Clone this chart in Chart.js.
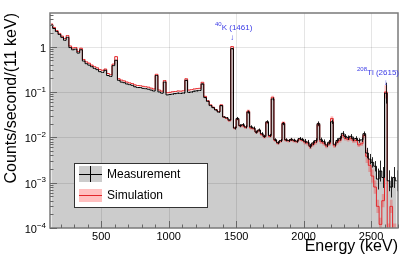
<!DOCTYPE html>
<html>
<head>
<meta charset="utf-8">
<script src="https://cdn.jsdelivr.net/npm/chart.js@4/dist/chart.umd.min.js"></script>
<style>
  html, body { margin: 0; padding: 0; background: #fff; }
</style>
</head>
<body>
<canvas id="chart" width="415" height="259"></canvas>
<script>
// spectrum, 20 keV bins, centres starting at 130 keV
const binStart = 130;
const binWidth = 20;

const measurement = [
  3.0, 2.5, 2.15, 1.85, 1.6, 1.38, 1.6, 0.95, 0.85, 0.88,
  0.72, 0.85, 0.48, 0.42, 0.39, 0.36, 0.33, 0.31, 0.28, 0.27,
  0.30, 0.23, 0.22, 0.38, 0.5, 0.18, 0.165, 0.16, 0.15, 0.145,
  0.14, 0.13, 0.125, 0.125, 0.12, 0.118, 0.115, 0.11, 0.105, 0.23,
  0.1, 0.094, 0.165, 0.086, 0.088, 0.09, 0.092, 0.094, 0.093, 0.095,
  0.18, 0.098, 0.1, 0.104, 0.106, 0.108, 0.15, 0.075, 0.062, 0.05,
  0.045, 0.04, 0.036, 0.05, 0.028, 0.027, 0.024, 0.9, 0.016, 0.026,
  0.018, 0.019, 0.017, 0.036, 0.017, 0.016, 0.013, 0.0145, 0.012, 0.0105,
  0.022, 0.011, 0.07, 0.0088, 0.0076, 0.0085, 0.02, 0.0088, 0.0085, 0.009,
  0.0086, 0.0082, 0.0094, 0.009, 0.0082, 0.0078, 0.0064, 0.0075, 0.0085, 0.02,
  0.0088, 0.008, 0.0068, 0.0078, 0.022, 0.007, 0.0085, 0.0095, 0.0122, 0.0105,
  0.0098, 0.0105, 0.0092, 0.0094, 0.0085, 0.0088, 0.012, 0.0045, 0.0033, 0.0028,
  0.0023, 0.0012, 0.0018, 0.0013, 0.094, 0.0011, 0.0008, 0.0013, 0.0011
];

const simulation = [
  3.15, 2.65, 2.25, 1.95, 1.7, 1.5, 1.75, 1.03, 0.93, 0.95,
  0.78, 0.92, 0.52, 0.46, 0.43, 0.39, 0.36, 0.34, 0.31, 0.3,
  0.32, 0.255, 0.24, 0.41, 0.6, 0.195, 0.182, 0.175, 0.165, 0.158,
  0.153, 0.143, 0.138, 0.137, 0.133, 0.13, 0.127, 0.121, 0.116, 0.245,
  0.11, 0.104, 0.178, 0.096, 0.098, 0.101, 0.102, 0.105, 0.104, 0.106,
  0.195, 0.11, 0.112, 0.116, 0.118, 0.12, 0.163, 0.08, 0.064, 0.052,
  0.046, 0.041, 0.037, 0.052, 0.028, 0.026, 0.023, 1.0, 0.016, 0.025,
  0.018, 0.018, 0.0165, 0.038, 0.016, 0.0155, 0.013, 0.014, 0.0115, 0.0102,
  0.021, 0.0105, 0.076, 0.0085, 0.0074, 0.0082, 0.021, 0.0086, 0.0083, 0.0087,
  0.0083, 0.008, 0.009, 0.0086, 0.0078, 0.0074, 0.0062, 0.007, 0.0078, 0.019,
  0.008, 0.0074, 0.0064, 0.0072, 0.026, 0.0065, 0.0078, 0.0086, 0.011, 0.0095,
  0.009, 0.0095, 0.0084, 0.0085, 0.0068, 0.0072, 0.011, 0.0038, 0.0024, 0.0014,
  0.0008, 0.0003, 0.00012, 0.0004, 0.1, 0.00009, 0.0003, 0.00009, 0.00009
];

// relative uncertainty, [from energy, fraction]
const measErrSteps = [[120, 0.01], [1000, 0.03], [1480, 0.08], [2000, 0.12], [2460, 0.3], [2540, 0.7]];
const simErrSteps = [[120, 0.02], [1480, 0.08], [2000, 0.12], [2460, 0.4]];

const xTicks = [500, 1000, 1500, 2000, 2500];
const yTicks = [1e-4, 1e-3, 1e-2, 1e-1, 1];
const yTickLabels = [['10', '\u22124'], ['10', '\u22123'], ['10', '\u22122'], ['10', '\u22121'], ['1', '']];

const energy = measurement.map((v, i) => binStart + binWidth * i);

function relErr(steps, e) {
  let r = steps[0][1];
  steps.forEach(s => { if (e >= s[0]) r = s[1]; });
  return r;
}

const measPts = energy.map((e, i) => ({ x: e, y: measurement[i] }));
const simPts = energy.map((e, i) => ({ x: e, y: simulation[i] }));
const simHi = energy.map((e, i) => ({ x: e, y: simulation[i] * (1 + relErr(simErrSteps, e)) }));
const simLo = energy.map((e, i) => ({ x: e, y: simulation[i] / (1 + relErr(simErrSteps, e)) }));

const FONT = '"Liberation Sans", Arial, sans-serif';

function supText(ctx, base, sup, x, y, baseSize, supSize, align) {
  ctx.font = baseSize + 'px ' + FONT;
  const bw = ctx.measureText(base).width;
  ctx.font = supSize + 'px ' + FONT;
  const sw = ctx.measureText(sup).width;
  let left = x;
  if (align === 'right') left = x - bw - sw;
  ctx.textBaseline = 'middle';
  ctx.textAlign = 'left';
  ctx.font = baseSize + 'px ' + FONT;
  ctx.fillText(base, left, y);
  ctx.font = supSize + 'px ' + FONT;
  ctx.fillText(sup, left + bw, y - baseSize * 0.42);
}

function preSupText(ctx, sup, base, x, y, baseSize, supSize) {
  ctx.textBaseline = 'middle';
  ctx.textAlign = 'left';
  ctx.font = supSize + 'px ' + FONT;
  const sw = ctx.measureText(sup).width;
  ctx.fillText(sup, x, y - baseSize * 0.45);
  ctx.font = baseSize + 'px ' + FONT;
  ctx.fillText(base, x + sw, y);
}

const spectrumDecor = {
  id: 'spectrumDecor',
  afterDatasetDraw(chart, args) {
    const ctx = chart.ctx;
    const a = chart.chartArea;
    const xs = chart.scales.x;
    const ys = chart.scales.y;
    if (args.index === 0) {
      // grid lines on top of the grey fill
      ctx.save();
      ctx.strokeStyle = 'rgba(0,0,0,0.1)';
      ctx.lineWidth = 1;
      ctx.beginPath();
      xTicks.forEach(v => {
        const px = Math.round(xs.getPixelForValue(v)) + 0.5;
        ctx.moveTo(px, a.top); ctx.lineTo(px, a.bottom);
      });
      yTicks.slice(1).forEach(v => {
        const py = Math.round(ys.getPixelForValue(v)) + 0.5;
        ctx.moveTo(a.left, py); ctx.lineTo(a.right, py);
      });
      ctx.stroke();
      ctx.restore();
    }
    if (args.index === 3) {
      // measurement error bars
      ctx.save();
      ctx.beginPath();
      ctx.rect(a.left, a.top, a.right - a.left, a.bottom - a.top);
      ctx.clip();
      ctx.strokeStyle = 'rgba(0,0,0,0.85)';
      ctx.lineWidth = 1;
      ctx.beginPath();
      energy.forEach((e, i) => {
        const r = relErr(measErrSteps, e);
        const px = Math.round(xs.getPixelForValue(e)) + 0.5;
        ctx.moveTo(px, ys.getPixelForValue(measurement[i] / (1 + r)));
        ctx.lineTo(px, ys.getPixelForValue(measurement[i] * (1 + r)));
      });
      ctx.stroke();
      ctx.restore();
    }
  },
  afterDraw(chart) {
    const ctx = chart.ctx;
    const a = chart.chartArea;
    const xs = chart.scales.x;
    const ys = chart.scales.y;
    ctx.save();

    // frame
    ctx.strokeStyle = '#7a7a7a';
    ctx.lineWidth = 1.5;
    ctx.strokeRect(a.left, a.top, a.right - a.left, a.bottom - a.top);

    // ticks pointing inwards
    ctx.lineWidth = 1;
    ctx.strokeStyle = '#666';
    ctx.beginPath();
    for (let e = 200; e <= 2700; e += 100) {
      const px = Math.round(xs.getPixelForValue(e)) + 0.5;
      const len = e % 500 === 0 ? 7 : 3.5;
      ctx.moveTo(px, a.bottom); ctx.lineTo(px, a.bottom - len);
    }
    for (let d = -4; d <= 0; d++) {
      for (let m = 1; m <= 9; m++) {
        const v = m * Math.pow(10, d);
        if (v > ys.max) break;
        const py = Math.round(ys.getPixelForValue(v)) + 0.5;
        const len = m === 1 ? 7 : 3.5;
        ctx.moveTo(a.left, py); ctx.lineTo(a.left + len, py);
      }
    }
    ctx.stroke();

    // tick labels
    ctx.fillStyle = '#000';
    ctx.font = '11px ' + FONT;
    ctx.textAlign = 'center';
    ctx.textBaseline = 'middle';
    xTicks.forEach(v => ctx.fillText(String(v), xs.getPixelForValue(v), 237));
    yTicks.forEach((v, i) => {
      const py = ys.getPixelForValue(v);
      supText(ctx, yTickLabels[i][0], yTickLabels[i][1], 46, py + 2, 11, 8, 'right');
    });

    // axis titles
    ctx.font = '16px ' + FONT;
    ctx.textAlign = 'right';
    ctx.textBaseline = 'middle';
    ctx.fillText('Energy (keV)', a.right, 247);
    ctx.save();
    ctx.translate(12, a.top);
    ctx.rotate(-Math.PI / 2);
    ctx.fillText('Counts/second/(11 keV)', 0, 0);
    ctx.restore();

    // peak annotations
    ctx.fillStyle = '#3b3be6';
    preSupText(ctx, '40', 'K (1461)', 215, 28, 8, 6);
    preSupText(ctx, '208', 'Tl (2615)', 357, 72.5, 8, 6);
    ctx.font = '8px ' + FONT;
    ctx.textAlign = 'center';
    ctx.fillText('\u2193', xs.getPixelForValue(1470), 38);
    ctx.fillText('\u2193', xs.getPixelForValue(2610), 83);

    // legend
    const lx = 74, ly = 163, lw = 133, lh = 44;
    ctx.fillStyle = '#fff';
    ctx.fillRect(lx, ly, lw, lh);
    ctx.strokeStyle = '#333';
    ctx.lineWidth = 1;
    ctx.strokeRect(lx + 0.5, ly + 0.5, lw, lh);
    ctx.fillStyle = '#cccccc';
    ctx.fillRect(79, 166, 23, 16);
    ctx.strokeStyle = '#000';
    ctx.beginPath();
    ctx.moveTo(79, 174.5); ctx.lineTo(102, 174.5);
    ctx.moveTo(90.5, 166); ctx.lineTo(90.5, 182);
    ctx.stroke();
    ctx.fillStyle = 'rgba(255,0,0,0.25)';
    ctx.fillRect(79, 189, 23, 13);
    ctx.strokeStyle = '#e3262a';
    ctx.beginPath();
    ctx.moveTo(79, 195.5); ctx.lineTo(102, 195.5);
    ctx.stroke();
    ctx.fillStyle = '#000';
    ctx.font = '12px ' + FONT;
    ctx.textAlign = 'left';
    ctx.textBaseline = 'middle';
    ctx.fillText('Measurement', 107, 174.5);
    ctx.fillText('Simulation', 107, 196);

    ctx.restore();
  }
};

new Chart(document.getElementById('chart'), {
  type: 'line',
  data: {
    datasets: [
      {
        label: 'fill',
        data: measPts,
        stepped: 'middle',
        borderWidth: 0,
        pointRadius: 0,
        fill: 'start',
        backgroundColor: '#cccccc',
        order: 10
      },
      {
        label: 'simHi',
        data: simHi,
        stepped: 'middle',
        borderWidth: 0,
        pointRadius: 0,
        fill: '+1',
        backgroundColor: 'rgba(255,0,0,0.25)',
        order: 8
      },
      {
        label: 'simLo',
        data: simLo,
        stepped: 'middle',
        borderWidth: 0,
        pointRadius: 0,
        fill: false,
        order: 7
      },
      {
        label: 'Simulation',
        data: simPts,
        stepped: 'middle',
        borderColor: '#e3262a',
        borderWidth: 1,
        pointRadius: 0,
        fill: false,
        order: 5
      },
      {
        label: 'Measurement',
        data: measPts,
        stepped: 'middle',
        borderColor: '#000',
        borderWidth: 1,
        pointRadius: 0,
        fill: false,
        order: 1
      }
    ]
  },
  options: {
    responsive: false,
    animation: false,
    devicePixelRatio: 1,
    layout: { padding: { left: 50, right: 17, top: 13, bottom: 31 } },
    plugins: {
      legend: { display: false },
      tooltip: { enabled: false }
    },
    scales: {
      x: { type: 'linear', min: 120, max: 2700, display: false, offset: false },
      y: { type: 'logarithmic', min: 1e-4, max: 5.5, display: false }
    }
  },
  plugins: [spectrumDecor]
});
</script>
</body>
</html>
